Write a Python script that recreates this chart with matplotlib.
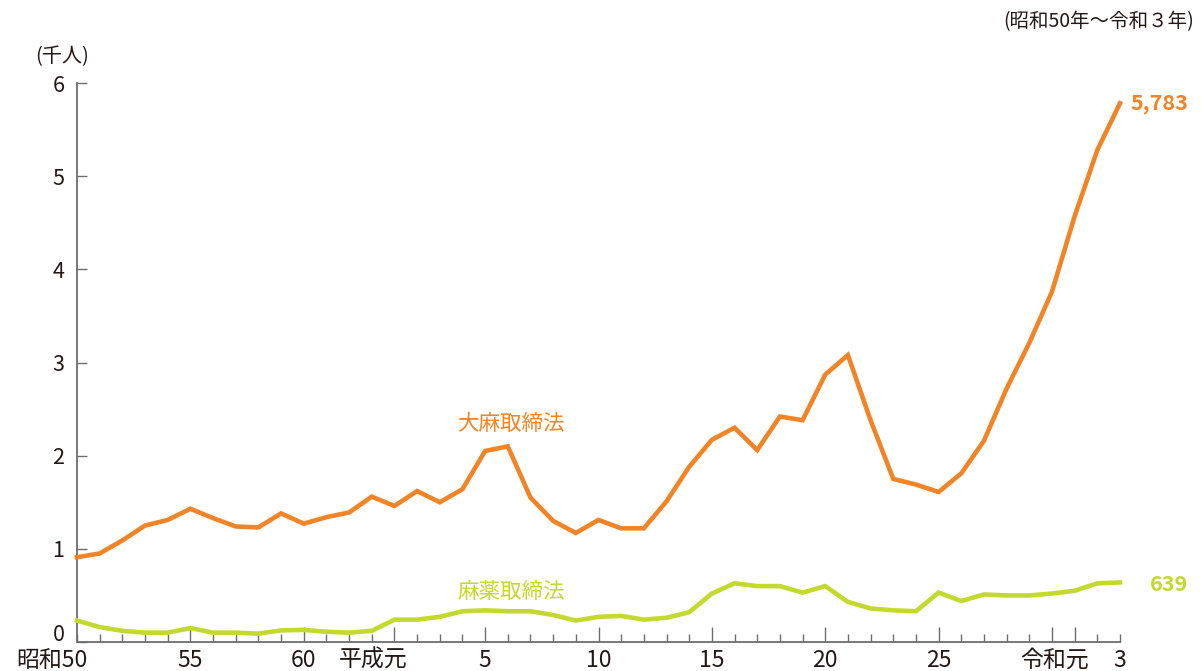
import matplotlib
matplotlib.use("Agg")
import matplotlib.pyplot as plt
import matplotlib.transforms as mtransforms

plt.rcParams['font.family'] = ['Noto Sans CJK JP', 'DejaVu Sans']

# 昭和50年(1975) ～ 令和3年(2021), thousands of persons
years = list(range(1975, 2022))
cannabis = [0.91, 0.95, 1.09, 1.25, 1.31, 1.43, 1.33, 1.24, 1.23, 1.38,
            1.27, 1.34, 1.39, 1.56, 1.46, 1.62, 1.50, 1.64, 2.05, 2.10,
            1.55, 1.30, 1.17, 1.31, 1.22, 1.22, 1.51, 1.88, 2.17, 2.30,
            2.06, 2.42, 2.38, 2.87, 3.08, 2.38, 1.75, 1.69, 1.61, 1.81,
            2.16, 2.72, 3.21, 3.76, 4.57, 5.28, 5.783]
narcotics = [0.23, 0.16, 0.12, 0.10, 0.10, 0.15, 0.10, 0.10, 0.09, 0.125,
             0.13, 0.11, 0.10, 0.12, 0.24, 0.24, 0.27, 0.33, 0.34, 0.33,
             0.33, 0.29, 0.23, 0.27, 0.28, 0.24, 0.26, 0.32, 0.52, 0.63,
             0.60, 0.60, 0.53, 0.60, 0.43, 0.36, 0.34, 0.33, 0.53, 0.44,
             0.51, 0.50, 0.50, 0.52, 0.55, 0.63, 0.639]

series_names = ['大麻取締法', '麻薬取締法']
end_labels = ['5,783', '639']
colors = ['#F08426', '#C4D92E']

xtick_major_idx = [5, 10, 14, 18, 23, 28, 33, 38, 43, 44]
xlabel_idx = [-1.1, 5, 10, 13.05, 18, 23, 28, 33, 38, 43.1, 46]
xlabel_text = ['昭和50', '55', '60', '平成元', '5', '10', '15', '20', '25', '令和元', '3']
yticks = [0, 1, 2, 3, 4, 5, 6]

text_col = '#231815'
axis_col = '#6d6d6d'

fig = plt.figure(figsize=(12.02, 6.71), dpi=100)
ax = fig.add_axes([77/1202, 29/671, (1120-77)/1202, (642-83)/671])

x = list(range(len(years)))
ax.plot(x, cannabis, color=colors[0], lw=3.3, solid_joinstyle='miter', clip_on=False, zorder=3)
ax.plot(x, narcotics, color=colors[1], lw=3.3, solid_joinstyle='miter', clip_on=False, zorder=3)

ax.set_xlim(0, len(years) - 1)
ax.set_ylim(0, 6)

for s in ['top', 'right']:
    ax.spines[s].set_visible(False)
for s in ['left', 'bottom']:
    ax.spines[s].set_color(axis_col)
    ax.spines[s].set_linewidth(1.3)

ax.set_yticks(yticks)
ax.set_yticklabels([str(v) for v in yticks], fontsize=15.5, color=text_col)
ax.tick_params(axis='y', direction='in', length=7, width=1.0, color=axis_col, pad=9)
# raise the "0" label a little, as in the original
zero_lab = ax.get_yticklabels()[0]
zero_lab.set_transform(zero_lab.get_transform() +
                       mtransforms.ScaledTranslation(0, 7/72, fig.dpi_scale_trans))

ax.set_xticks(xtick_major_idx)
ax.set_xticks(x, minor=True)
ax.set_xticklabels([])
ax.tick_params(axis='x', which='major', direction='in', length=11, width=1.0, color=axis_col)
ax.tick_params(axis='x', which='minor', direction='in', length=6, width=1.0, color=axis_col)

trans = mtransforms.blended_transform_factory(ax.transData, ax.transAxes)
for xi, t in zip(xlabel_idx, xlabel_text):
    ax.text(xi, -0.033, t, transform=trans, ha='center', va='center',
            fontsize=16.5, color=text_col, clip_on=False)

# unit label & period note
fig.text(62/1202, 1 - 57/671, '(千人)', ha='center', va='center', fontsize=14.5, color=text_col)
fig.text(1194/1202, 1 - 22/671, '(昭和50年～令和３年)', ha='right', va='center',
         fontsize=14, color=text_col)

# series labels
ax.text(19.14, 2.34, series_names[0], ha='center', va='center', fontsize=15.5, color=colors[0])
ax.text(19.14, 0.54, series_names[1], ha='center', va='center', fontsize=15.5, color=colors[1])

# end value labels
ax.text(49.0, cannabis[-1], end_labels[0], ha='right', va='center', fontsize=15.5,
        fontweight='bold', color=colors[0], clip_on=False)
ax.text(49.0, narcotics[-1] - 0.02, end_labels[1], ha='right', va='center', fontsize=15.5,
        fontweight='bold', color=colors[1], clip_on=False)

fig.savefig('out.png', dpi=100)
